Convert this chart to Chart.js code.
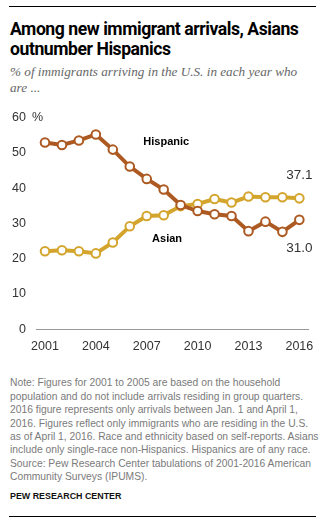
<!DOCTYPE html>
<html><head><meta charset="utf-8">
<script src="https://cdn.jsdelivr.net/npm/chart.js@4/dist/chart.umd.min.js"></script>
<style>
html,body{margin:0;padding:0;background:#fff;width:329px;height:518px;overflow:hidden;position:relative}
.rule{position:absolute;left:9px;width:307px;height:1px;background:#000}
#title{position:absolute;left:10px;top:18.8px;font:700 17.6px Roboto,sans-serif;line-height:20px;color:#000;white-space:nowrap;letter-spacing:-0.45px}
#sub{position:absolute;left:10px;top:63.6px;font:italic 13.2px "Liberation Serif",serif;line-height:16px;color:#666;white-space:nowrap}
#note{position:absolute;left:10px;top:376.3px;font:10.3px "Liberation Sans",sans-serif;line-height:13.4px;color:#7a7a7a;white-space:nowrap}
#src{position:absolute;left:10px;top:490px;font:700 8.9px "Liberation Sans",sans-serif;line-height:12px;color:#111;white-space:nowrap}
#wrap{position:absolute;left:0;top:100px;width:329px;height:265px}
</style></head><body>
<div class="rule" style="top:6px"></div>
<div id="title">Among new immigrant arrivals, Asians<br>outnumber Hispanics</div>
<div id="sub">% of immigrants arriving in the U.S. in each year who<br>are ...</div>
<div id="wrap"><canvas id="c" width="329" height="265"></canvas></div>
<div id="note">Note: Figures for 2001 to 2005 are based on the household<br>population and do not include arrivals residing in group quarters.<br>2016 figure represents only arrivals between Jan. 1 and April 1,<br>2016. Figures reflect only immigrants who are residing in the U.S.<br>as of April 1, 2016. Race and ethnicity based on self-reports. Asians<br>include only single-race non-Hispanics. Hispanics are of any race.<br>Source: Pew Research Center tabulations of 2001-2016 American<br>Community Surveys (IPUMS).</div>
<div id="src">PEW RESEARCH CENTER</div>
<div class="rule" style="top:516px"></div>
<script>
const years = [2001,2002,2003,2004,2005,2006,2007,2008,2009,2010,2011,2012,2013,2014,2015,2016];
const hispanic = [52.9,52.2,53.5,55.2,50.9,46.1,42.6,39.6,35.2,33.5,32.6,32.1,27.8,30.5,27.6,31.0];
const asian = [22.1,22.4,22.1,21.5,24.6,29.2,32.1,32.3,34.9,35.5,36.9,35.9,37.6,37.4,37.4,37.1];
const xTicks = [2001,2004,2007,2010,2013,2016];
const yTicks = [0,10,20,30,40,50,60];
const seriesNames = ['Hispanic','Asian'];
const hispColor = '#ad5a22';
const asianColor = '#d4a52d';

const labelsPlugin = {
  id:'labels',
  afterDatasetsDraw(chart){
    const ctx = chart.ctx, xs = chart.scales.x, ys = chart.scales.y;
    ctx.save();
    ctx.fillStyle='#333';
    ctx.font='12.5px "Liberation Sans", sans-serif';
    ctx.textAlign='left'; ctx.textBaseline='middle';
    ctx.fillText('%', 32, ys.getPixelForValue(60));
    ctx.fillStyle='#000';
    ctx.font='bold 11px "Liberation Sans", sans-serif';
    ctx.textAlign='center';
    ctx.fillText(seriesNames[0], xs.getPixelForValue(2008.15), ys.getPixelForValue(53.1));
    ctx.fillText(seriesNames[1], xs.getPixelForValue(2008.2), ys.getPixelForValue(25.5));
    ctx.fillStyle='#333';
    ctx.font='13.5px "Liberation Sans", sans-serif';
    const li = years.length-1;
    ctx.fillText(asian[li].toFixed(1), xs.getPixelForValue(years[li]), ys.getPixelForValue(asian[li])-23);
    ctx.fillText(hispanic[li].toFixed(1), xs.getPixelForValue(years[li]), ys.getPixelForValue(hispanic[li])+28);
    ctx.restore();
  }
};

new Chart(document.getElementById('c'), {
  type:'line',
  data:{datasets:[
    {label:seriesNames[0], data:years.map((y,i)=>({x:y,y:hispanic[i]})), borderColor:hispColor, backgroundColor:'#fff', borderWidth:4, pointRadius:4.3, pointBorderWidth:2, pointBackgroundColor:'#fff', pointBorderColor:hispColor, tension:0},
    {label:seriesNames[1], data:years.map((y,i)=>({x:y,y:asian[i]})), borderColor:asianColor, backgroundColor:'#fff', borderWidth:4, pointRadius:4.3, pointBorderWidth:2, pointBackgroundColor:'#fff', pointBorderColor:asianColor, tension:0}
  ]},
  options:{
    responsive:false, animation:false, devicePixelRatio:1,
    layout:{padding:{top:17,right:21,left:0,bottom:0}},
    plugins:{legend:{display:false},tooltip:{enabled:false}},
    scales:{
      x:{type:'linear', min:2000.47, max:2016.51,
        afterBuildTicks(s){ s.ticks = xTicks.map(v=>({value:v})); },
        afterFit(s){ s.height = 35.7; },
        grid:{display:false, drawTicks:false},
        border:{display:true, color:'#999', width:1},
        ticks:{color:'#333', font:{family:'"Liberation Sans", sans-serif', size:12.5}, padding:10, maxRotation:0, autoSkip:false, callback:v=>String(v)}
      },
      y:{min:0, max:60,
        afterBuildTicks(s){ s.ticks = yTicks.map(v=>({value:v})); },
        afterFit(s){ s.width = 36; },
        grid:{display:false, drawTicks:false},
        border:{display:false},
        ticks:{color:'#333', font:{family:'"Liberation Sans", sans-serif', size:12.5}, padding:10}
      }
    }
  },
  plugins:[labelsPlugin]
});
</script>
</body></html>
